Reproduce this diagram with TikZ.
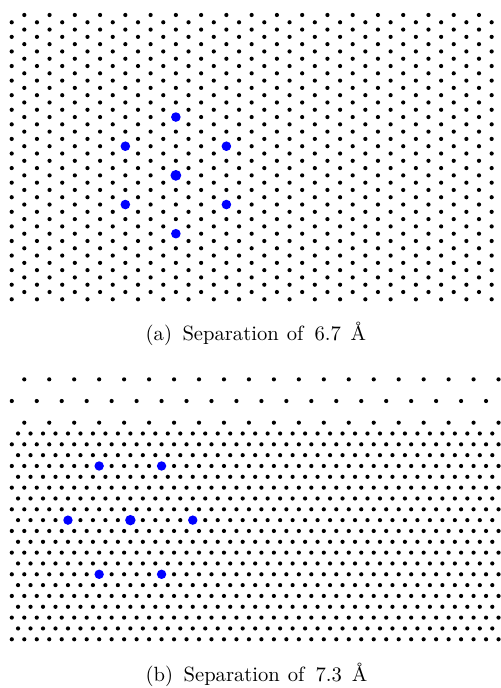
\documentclass[tikz,border=0pt]{standalone}
\usepackage{tikz}
\usepackage{graphicx}
\newcommand\captext[2]{\scalebox{1.03}{(#1)\hspace{5.1pt}Separation\hspace{3.9pt}of\hspace{5.4pt}#2\hspace{4.8pt}Å}}
\begin{document}
\begin{tikzpicture}[x=0.5pt,y=-0.5pt,
  blk/.style={fill=black},
  blu/.style={fill=blue},
  captxt/.style={anchor=base west,inner sep=0pt,font=\normalsize}]
\useasboundingbox (0,0) rectangle (501,688);
% ---------- panel (a) ----------
\foreach \r in {0,2,...,38}{
  \foreach \k in {0,...,18}{
    \fill[blk] ({24.3+25.26*\k},{15+7.29*\r}) circle[radius=1.05pt];
  }
}
\foreach \r in {1,3,...,39}{
  \foreach \k in {0,...,19}{
    \fill[blk] ({11.7+25.26*\k},{15+7.29*\r}) circle[radius=1.05pt];
  }
}
\foreach \r/\k in {14/6,18/4,18/8,26/4,26/8,30/6}{
  \fill[blu] ({24.3+25.26*\k},{15+7.29*\r}) circle[radius=2.4pt];
}
\fill[blu] ({24.3+25.26*6},{15+7.29*22}) circle[radius=2.7pt];
\node[captxt] (capa) at (145.3,341) {\captext{a}{6.7}};
% ---------- panel (b) ----------
\foreach \i in {-5,-1}{
  \foreach \k in {1,3,...,39}{
    \fill[blk] ({11.8+12.48*\k},{433.5+10.83*\i}) circle[radius=1.05pt];
  }
}
\foreach \k in {0,2,...,38}{
  \fill[blk] ({11.8+12.48*\k},{433.5+10.83*(-3)}) circle[radius=1.05pt];
}
\foreach \i in {0,2,...,18}{
  \foreach \k in {0,...,38}{
    \fill[blk] ({18.04+12.48*\k},{433.5+10.83*\i}) circle[radius=1.05pt];
  }
}
\foreach \i in {1,3,...,19}{
  \foreach \k in {0,...,39}{
    \fill[blk] ({11.8+12.48*\k},{433.5+10.83*\i}) circle[radius=1.05pt];
  }
}
\foreach \i/\k in {3/7,3/12,13/7,13/12}{
  \fill[blu] ({11.8+12.48*\k},{433.5+10.83*\i}) circle[radius=2.35pt];
}
\foreach \k in {4,14}{
  \fill[blu] ({18.04+12.48*\k},{433.5+10.83*8}) circle[radius=2.35pt];
}
\fill[blu] ({18.04+12.48*9},{433.5+10.83*8}) circle[radius=2.6pt];
\node[captxt] (capb) at (145.3,681) {\captext{b}{7.3}};
\end{tikzpicture}
\end{document}
